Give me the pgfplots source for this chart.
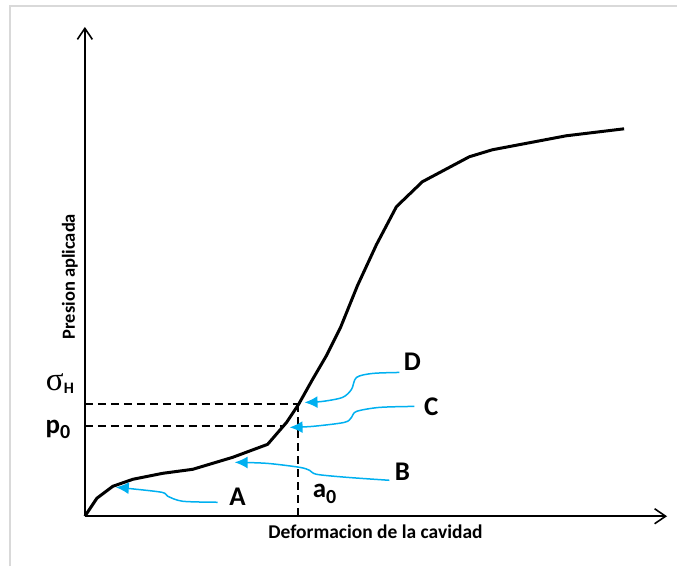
\documentclass[border=0pt]{standalone}
\usepackage{pgfplots}
\pgfplotsset{compat=1.18}
\usepackage{fontspec}
\setmainfont{Carlito}
\newfontfamily\greekfont{Liberation Serif}
\usetikzlibrary{arrows.meta}
\definecolor{arrowblue}{HTML}{00B0F0}
\definecolor{framegray}{HTML}{D9D9D9}
\begin{document}
\begin{tikzpicture}
\begin{axis}[
  scale only axis, width=678pt, height=567pt,
  xmin=-85, xmax=593, ymin=-50, ymax=517,
  axis lines=none, clip=false]
\path (rel axis cs:0,0) rectangle (rel axis cs:1,1);
% frame
\draw[framegray, line width=2pt] (axis cs:-75,-50) -- (axis cs:-75,511) -- (axis cs:593,511);
% axes
\draw[line width=2pt, -{Straight Barb[length=11pt,width=15pt,line width=1.6pt]}] (axis cs:0,0) -- (axis cs:0,490);
\draw[line width=2pt, -{Straight Barb[length=11pt,width=15pt,line width=1.6pt]}] (axis cs:0,0) -- (axis cs:583,0);
% dashed guides
\draw[line width=1.9pt, dash pattern=on 8pt off 5pt] (axis cs:0,112) -- (axis cs:214,112);
\draw[line width=1.9pt, dash pattern=on 8pt off 5pt] (axis cs:0,90) -- (axis cs:199,90);
\draw[line width=1.9pt, dash pattern=on 8pt off 5pt] (axis cs:213,112) -- (axis cs:213,0);
% main curve
\addplot[black, line width=3pt, line join=round] coordinates {
(0,0) (12,18) (28,30) (48,37) (78,43) (108,47) (148,59) (183,72)
(202,94) (214,112) (228,137) (242,161) (256,189) (273,231) (292,272)
(312,310) (338,335) (385,360) (408,367) (482,381) (540,388)};
% blue arrows
\draw[arrowblue, line width=1.5pt, -{Latex[length=13pt,width=12pt]}] plot[smooth, tension=0.5] coordinates {(133,14) (98,15) (83,20) (77,24) (42,28) (31,29)};
\draw[arrowblue, line width=1.5pt, -{Latex[length=13pt,width=12pt]}] plot[smooth, tension=0.5] coordinates {(305,36) (262,39) (232,42) (225,46) (215,49) (182,53) (150,54)};
\draw[arrowblue, line width=1.5pt, -{Latex[length=13pt,width=12pt]}] plot[smooth, tension=0.5] coordinates {(330,110) (295,109) (272,105) (267,99) (260,94) (228,90) (205,89)};
\draw[arrowblue, line width=1.5pt, -{Latex[length=13pt,width=12pt]}] plot[smooth, tension=0.5] coordinates {(315,144) (288,143) (272,139) (267,127) (258,119) (238,115) (220,114)};
% labels
\node[font=\fontsize{27}{30}\selectfont\bfseries] at (axis cs:328,155) {D};
\node[font=\fontsize{27}{30}\selectfont\bfseries] at (axis cs:347,110) {C};
\node[font=\fontsize{27}{30}\selectfont\bfseries] at (axis cs:318,45) {B};
\node[font=\fontsize{27}{30}\selectfont\bfseries] at (axis cs:153,20) {A};
\node[font=\fontsize{27}{30}\selectfont\bfseries] at (axis cs:240,22) {a\raisebox{-0.45ex}{\fontsize{20}{22}\selectfont 0}};
\node[font=\fontsize{27}{30}\selectfont\bfseries] at (axis cs:-27,87) {p\raisebox{-0.4ex}{\fontsize{20}{22}\selectfont 0}};
\node at (axis cs:-25,133) {{\greekfont\fontsize{33}{35}\selectfont σ}\raisebox{-0.6ex}{\fontsize{16}{18}\selectfont\bfseries H}};
\node[font=\fontsize{19.5}{22}\selectfont\bfseries] at (axis cs:291,-16) {Deformacion de la cavidad};
\node[font=\fontsize{18.5}{20}\selectfont\bfseries, rotate=90] at (axis cs:-15,240) {Presion aplicada};
\end{axis}
\end{tikzpicture}
\end{document}
